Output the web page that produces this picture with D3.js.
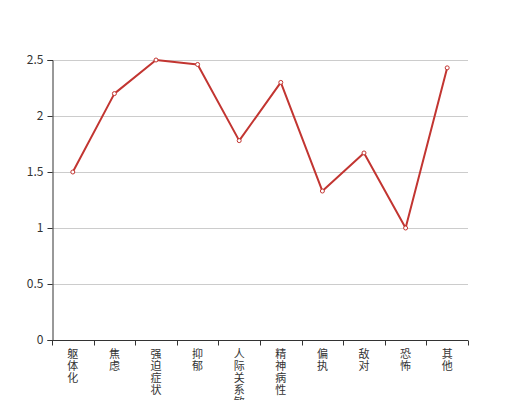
<!DOCTYPE html>
<html><head><meta charset="utf-8">
<script src="https://cdn.jsdelivr.net/npm/d3@7"></script>
<style>body{margin:0;background:#fff}svg{display:block}</style>
</head><body>
<svg id="c" width="520" height="400"></svg>
<script>
const categories = ["躯体化","焦虑","强迫症状","抑郁","人际关系敏感","精神病性","偏执","敌对","恐怖","其他"];
const values = [1.5, 2.2, 2.5, 2.46, 1.78, 2.3, 1.33, 1.67, 1.0, 2.43];
const yTicks = [0, 0.5, 1, 1.5, 2, 2.5];

const svg = d3.select("#c");
const m = {l:52, r:52, t:60, b:60};
const W = 520, H = 400;
const x = d3.scaleBand().domain(categories).range([m.l, W - m.r]);
const y = d3.scaleLinear().domain([0, 2.5]).range([H - m.b, m.t]);
const font = "'Noto Sans CJK SC', sans-serif";

// grid
svg.append("g").selectAll("line").data(yTicks.filter(d => d > 0)).join("line")
  .attr("x1", m.l).attr("x2", W - m.r)
  .attr("y1", d => y(d) + 0.5).attr("y2", d => y(d) + 0.5)
  .attr("stroke", "#ccc").attr("stroke-width", 1);

// y axis
const ya = svg.append("g").attr("transform", `translate(${m.l + 0.5},0)`)
  .call(d3.axisLeft(y).tickValues(yTicks).tickSize(5).tickPadding(4).tickFormat(d => String(d)));
ya.select(".domain").attr("stroke", "#333");
ya.selectAll(".tick line").attr("stroke", "#333");
ya.selectAll("text").attr("fill", "#333").attr("font-size", 12).attr("font-family", font);

// x axis
const xa = svg.append("g").attr("transform", `translate(0,${H - m.b + 0.5})`);
xa.append("line").attr("x1", m.l).attr("x2", W - m.r).attr("stroke", "#333");
const bounds = categories.map(c => x(c)).concat([x(categories[categories.length-1]) + x.bandwidth()]);
xa.selectAll("line.tk").data(bounds).join("line").attr("class","tk")
  .attr("x1", d => Math.round(d) + 0.5).attr("x2", d => Math.round(d) + 0.5)
  .attr("y1", 0).attr("y2", 5).attr("stroke", "#333");
categories.forEach(c => {
  const t = xa.append("text").attr("text-anchor", "middle").attr("fill", "#333")
    .attr("font-size", 11).attr("font-family", font);
  Array.from(c).forEach((ch, i) => {
    t.append("tspan").attr("x", x(c) + x.bandwidth()/2).attr("y", 17.5 + i * 12).text(ch);
  });
});

// line
const line = d3.line().x((d, i) => x(categories[i]) + x.bandwidth()/2).y(d => y(d));
svg.append("path").datum(values).attr("d", line)
  .attr("fill", "none").attr("stroke", "#c23531").attr("stroke-width", 2).attr("stroke-linejoin", "bevel");
svg.append("g").selectAll("circle").data(values).join("circle")
  .attr("cx", (d, i) => x(categories[i]) + x.bandwidth()/2).attr("cy", d => y(d))
  .attr("r", 2).attr("fill", "#fff").attr("stroke", "#c23531").attr("stroke-width", 1);
</script>
</body></html>
